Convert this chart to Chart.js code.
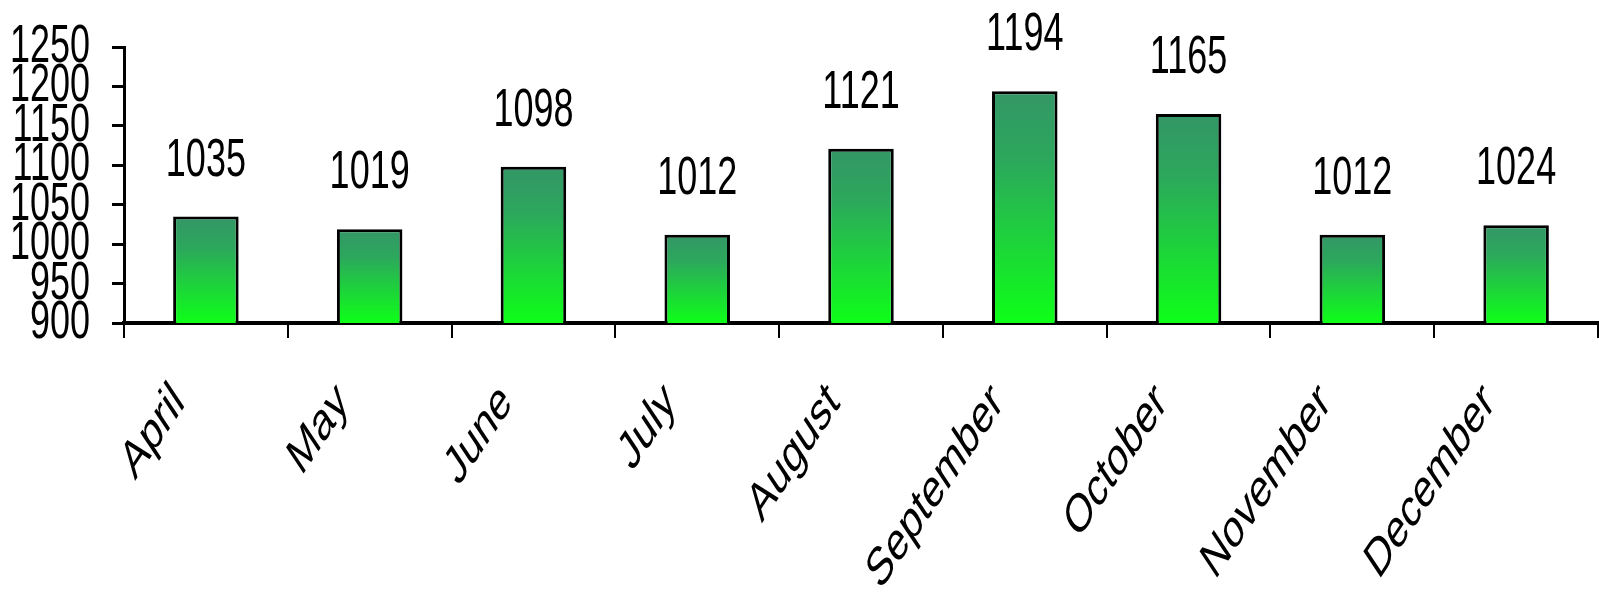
<!DOCTYPE html>
<html>
<head>
<meta charset="utf-8">
<title>Monthly totals</title>
<script src="https://cdn.jsdelivr.net/npm/chart.js@4/dist/chart.umd.min.js"></script>
<style>
  html, body { margin: 0; padding: 0; background: #fff; }
  #wrap { width: 1599px; height: 592px; }
</style>
</head>
<body>
<div id="wrap"><canvas id="monthChart"></canvas></div>
<script>
const months = ['April', 'May', 'June', 'July', 'August', 'September', 'October', 'November', 'December'];
const totals = [1035, 1019, 1098, 1012, 1121, 1194, 1165, 1012, 1024];
const yMin = 900;
const yMax = 1250;
const yStep = 50;

// the original picture looks stretched vertically, so text gets squashed the same way
const stretch = 1.5;
const textFont = '36px "Liberation Sans", Arial, sans-serif';

function barFill(context) {
  const chart = context.chart;
  const y = chart.scales.y;
  if (!chart.chartArea || context.raw === undefined) return '#2ea05c';
  const top = y.getPixelForValue(context.raw);
  const bottom = y.getPixelForValue(yMin);
  if (!isFinite(top) || bottom - top < 1) return '#2ea05c';
  const g = chart.ctx.createLinearGradient(0, top, 0, bottom);
  g.addColorStop(0, 'rgb(51,150,102)');
  g.addColorStop(0.3, 'rgb(44,168,92)');
  g.addColorStop(1, 'rgb(14,255,24)');
  return g;
}

const stretchedText = {
  id: 'stretchedText',
  afterDraw(chart) {
    const ctx = chart.ctx;
    const xs = chart.scales.x;
    const ys = chart.scales.y;
    ctx.save();
    ctx.fillStyle = '#000';
    ctx.font = textFont;

    // y tick labels
    ys.ticks.forEach(t => {
      const py = ys.getPixelForValue(t.value);
      ctx.save();
      ctx.translate(90, py + 15);
      ctx.scale(1, stretch);
      ctx.textAlign = 'right';
      ctx.textBaseline = 'alphabetic';
      ctx.fillText(String(t.value), 0, 0);
      ctx.restore();
    });

    // value labels over bars
    const meta = chart.getDatasetMeta(0);
    meta.data.forEach((bar, i) => {
      ctx.save();
      ctx.translate(bar.x, bar.y - 41);
      ctx.scale(1, stretch);
      ctx.textAlign = 'center';
      ctx.textBaseline = 'alphabetic';
      ctx.fillText(String(totals[i]), 0, 0);
      ctx.restore();
    });

    // slanted month names
    months.forEach((m, i) => {
      const px = xs.getPixelForValue(i);
      ctx.save();
      ctx.translate(px - 27, 394);
      ctx.scale(1, stretch);
      ctx.rotate(-Math.PI / 4);
      ctx.textAlign = 'right';
      ctx.textBaseline = 'middle';
      ctx.fillText(m, 0, 0);
      ctx.restore();
    });
    ctx.restore();
  }
};

const ctx = document.getElementById('monthChart').getContext('2d');
const monthChart = new Chart(ctx, {
  type: 'bar',
  data: {
    labels: months,
    datasets: [
      {
        data: totals,
        backgroundColor: barFill,
        borderColor: '#000',
        borderWidth: 3,
        borderSkipped: 'bottom',
        barPercentage: 0.4,
        categoryPercentage: 1
      }
    ]
  },
  options: {
    responsive: true,
    maintainAspectRatio: false,
    animation: false,
    layout: {
      padding: { top: 47, right: 1, left: 0, bottom: 0 }
    },
    plugins: {
      legend: { display: false },
      tooltip: { enabled: false }
    },
    scales: {
      x: {
        offset: true,
        ticks: { display: false },
        grid: {
          offset: true,
          drawOnChartArea: false,
          drawTicks: true,
          tickLength: 15,
          color: '#000',
          lineWidth: 2
        },
        border: { display: true, color: '#000', width: 4 },
        afterFit(scale) { scale.height = 269; }
      },
      y: {
        min: yMin,
        max: yMax,
        ticks: { display: false, stepSize: yStep },
        grid: {
          drawOnChartArea: false,
          drawTicks: true,
          tickLength: 12,
          color: '#000',
          lineWidth: 3
        },
        border: { display: true, color: '#000', width: 3 },
        afterFit(scale) { scale.width = 124; }
      }
    }
  },
  plugins: [stretchedText]
});
</script>
</body>
</html>
